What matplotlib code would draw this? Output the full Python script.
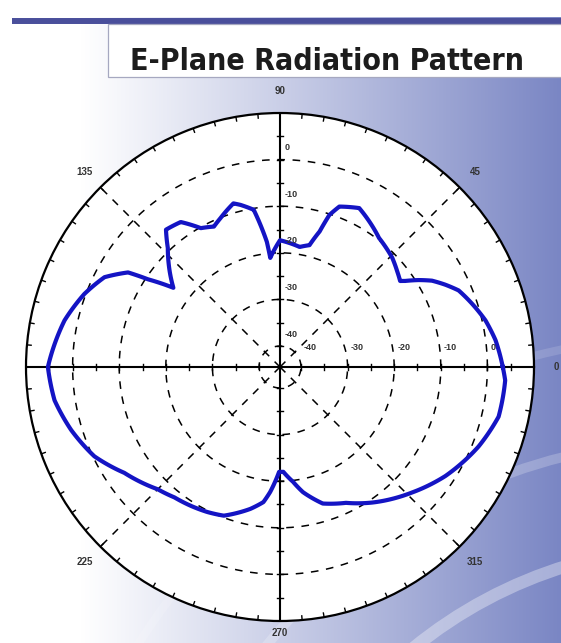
import numpy as np
import matplotlib
matplotlib.use("Agg")
import matplotlib.pyplot as plt
from matplotlib.patches import Rectangle, Circle

# ---------------- data ----------------
angles_deg = [0, 7.1, 12.8, 18.2, 23.2, 26.5, 29.6, 32.1, 34.5, 35.6, 39.4, 44.2, 52.5,
              63.5, 69.7, 72.0, 73.7, 76.4, 80.7, 90, 95.1, 96.0, 99.5, 103.7, 105.9,
              111.8, 115.2, 119.7, 124.4, 129.7, 133.3, 143.4, 146.4, 148.1, 152.9,
              159.5, 167.8, 180, 188.4, 196.8, 205.7, 214.2, 225, 231.0, 237.3, 243.4,
              249.3, 258.2, 263.0, 265.5, 269.5, 271.8, 276.5, 280.4, 287.4, 295.9,
              304.3, 316.5, 326.6, 338.2, 347.2, 356.6]
gain_db = [3.3, 2.1, 0.7, -1.1, -2.8, -4.9, -7.0, -9.4, -11.9, -12.8, -12.0, -10.9, -9.6,
           -6.4, -7.8, -10.2, -14.2, -17.6, -18.4, -17.3, -21.0, -17.5, -10.3, -8.7, -8.0,
           -10.1, -11.2, -10.2, -6.8, -6.2, -9.4, -16.0, -10.5, -6.1, -2.2,
           0.3, 2.8, 5.3, 4.4, 2.3, -0.3, -4.1, -7.4, -8.5, -9.1, -9.7,
           -10.4, -13.4, -15.3, -17.6, -22.0, -22.0, -19.7, -17.2, -13.8, -12.1,
           -9.3, -5.4, -2.0, 1.4, 3.6, 3.9]

ring_levels = [-40, -30, -20, -10, 0]
radial_tick_levels = [-40, -35, -30, -25, -20, -15, -10, -5, 0, 5]
angle_label_values = [0, 45, 90, 135, 225, 270, 315]
angle_label_texts = ["0", "45", "90", "135", "225", "270", "315"]
radial_label_texts = ["-40", "-30", "-20", "-10", "0"]
title_text = "E-Plane Radiation Pattern"

r_min, r_max = -44.5, 10.0

# ---------------- figure / background ----------------
W, H = 561, 643
fig = plt.figure(figsize=(W / 100, H / 100), dpi=100)

bg = fig.add_axes([0, 0, 1, 1])
bg.set_xlim(0, W)
bg.set_ylim(H, 0)
bg.axis("off")

xx = np.arange(W)[None, :].repeat(H, 0).astype(float)
yy = np.arange(H)[:, None].repeat(W, 1).astype(float)
t = np.clip((xx - 80) / 480.0, 0, 1) ** 1.05
white = np.array([1.0, 1.0, 1.0])
blue = np.array([122, 134, 196]) / 255.0
img = white[None, None, :] * (1 - t[..., None]) + blue[None, None, :] * t[..., None]
img[yy < 17] = 1.0
bg.imshow(img, extent=[0, W, H, 0], aspect="auto", zorder=0, interpolation="bilinear")

# decorative light arcs lower right
for rad, a, lw in [(454, 0.35, 9), (560, 0.22, 7), (665, 0.14, 6)]:
    bg.add_patch(Circle((700, 1000), rad, fill=False, edgecolor="white",
                        alpha=a, lw=lw, zorder=1))

# header line and title box
bg.plot([12, W], [20.5, 20.5], color="#4a4f9b", lw=4.3, solid_capstyle="butt", zorder=2)
bg.add_patch(Rectangle((108, 24), W - 108 + 5, 53, facecolor="white",
                       edgecolor="#a6a8c0", lw=0.9, zorder=2))
fig.text(327 / W, 1 - 69.5 / H, title_text, ha="center", va="baseline", fontsize=21.7,
         fontweight="bold", fontstretch="condensed", family=["DejaVu Sans"],
         color="#1c1c1c")

# ---------------- polar chart ----------------
cx, cy, R = 280, 367, 254
ax = fig.add_axes([(cx - R) / W, (H - cy - R) / H, 2 * R / W, 2 * R / H], projection="polar")
ax.set_theta_zero_location("E")
ax.set_theta_direction(1)
ax.set_ylim(r_min, r_max)
ax.set_xticks([])
ax.set_yticks([])
ax.grid(False)
ax.set_facecolor("white")
ax.spines["polar"].set_linewidth(1.6)
ax.spines["polar"].set_color("black")

th = np.linspace(0, 2 * np.pi, 721)
dash = (0, (5, 5))
for lv in ring_levels:
    ax.plot(th, np.full_like(th, lv), color="black", lw=1.1, ls=dash, zorder=2)

for a in [45, 135, 225, 315]:
    ax.plot([np.deg2rad(a)] * 2, [r_min, r_max], color="black", lw=1.1, ls=dash, zorder=2)

for a in [0, 90, 180, 270]:
    ax.plot([np.deg2rad(a)] * 2, [r_min, r_max], color="black", lw=1.5, zorder=3)

# outer ticks every 5 degrees
tt, rr = [], []
for a in range(0, 360, 5):
    tt += [np.deg2rad(a), np.deg2rad(a), np.nan]
    rr += [r_max - 0.9, r_max, np.nan]
ax.plot(tt, rr, color="black", lw=1.0, zorder=3)

# ticks along the axes every 5 dB
tt, rr = [], []
h = 0.7
for a in [0, 90, 180, 270]:
    base = np.deg2rad(a)
    for lv in radial_tick_levels:
        d = lv - r_min
        da = np.arctan(h / d)
        rr_out = np.hypot(d, h) + r_min
        tt += [base - da, base + da, np.nan]
        rr += [rr_out, rr_out, np.nan]
ax.plot(tt, rr, color="black", lw=1.0, zorder=3)

# pattern curve (drawn along polar arcs between the read points)
ang = np.deg2rad(np.array(angles_deg + [angles_deg[0] + 360]))
gdb = np.array(gain_db + [gain_db[0]])
line, = ax.plot(ang, gdb, color="#1414c4", lw=3.0, zorder=4, solid_joinstyle="round")
line.get_path()._interpolation_steps = 30

# angle labels
scale = R / (r_max - r_min)
for v, s in zip(angle_label_values, angle_label_texts):
    dist = 266 if v == 270 else 276
    ax.text(np.deg2rad(v), r_min + dist / scale, s, ha="center", va="center", fontsize=7,
            fontweight="bold", color="#333333", family="Liberation Sans", zorder=5)

# radial labels (vertical axis and horizontal axis)
for lv, s in zip(ring_levels, radial_label_texts):
    ax.annotate(s, xy=(np.pi / 2, lv), xytext=(5, 12), textcoords="offset pixels",
                ha="left", va="center", fontsize=6.5, fontweight="bold", color="#333333",
                family="Liberation Sans", zorder=5)
    ax.annotate(s, xy=(0, lv), xytext=(3, 20), textcoords="offset pixels",
                ha="left", va="center", fontsize=6.5, fontweight="bold", color="#333333",
                family="Liberation Sans", zorder=5)

fig.savefig("out.png", dpi=100)
